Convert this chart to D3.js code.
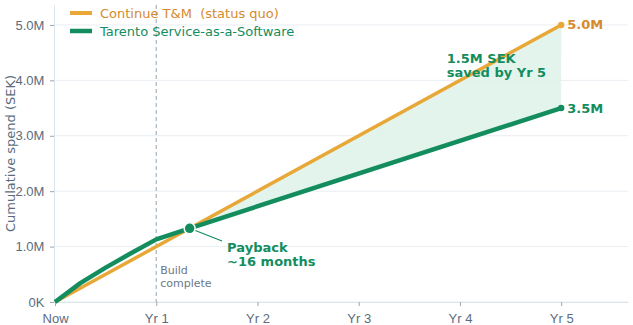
<!DOCTYPE html>
<html lang="en">
<head>
<meta charset="UTF-8" />
<title>Cumulative spend</title>
<script src="https://d3js.org/d3.v7.min.js"></script>
<style>
  body { margin: 0; background: #fff; }
  svg { font-family: "DejaVu Sans", sans-serif; }
  .tick text { fill: #5c6b7c; font-size: 13px; }
</style>
</head>
<body>
<svg id="chart" width="633" height="325"></svg>
<script>
// tick positions and labels
const yearTicks = [0, 1, 2, 3, 4, 5];
const yearLabels = ["Now", "Yr 1", "Yr 2", "Yr 3", "Yr 4", "Yr 5"];
const spendTicks = [0, 1, 2, 3, 4, 5];
const spendLabels = ["0K", "1.0M", "2.0M", "3.0M", "4.0M", "5.0M"];

// series (years, millions SEK)
const tmYears = [0, 5];
const tmSpend = [0, 5.0];
const saasYears = [0, 0.25, 0.5, 0.75, 1, 1.33, 5];
const saasSpend = [0, 0.34, 0.62, 0.88, 1.13, 1.33, 3.5];

const paybackYear = 1.33;
const paybackSpend = 1.33;
const buildYear = 1;

const orange = "#e8a838";
const orangeText = "#d68a2c";
const green = "#138d5e";

const svg = d3.select("#chart");
const margin = { top: 5, right: 5, bottom: 23, left: 54 };
const width = 633 - margin.left - margin.right;
const height = 325 - margin.top - margin.bottom;
const g = svg.append("g").attr("transform", `translate(${margin.left},${margin.top})`);

const x = d3.scaleLinear().domain([-0.01, 5.66]).range([0, width]);
const y = d3.scaleLinear().domain([0, 5.36]).range([height, 0]);

// grid
g.append("g").selectAll("line").data(spendTicks).enter().append("line")
  .attr("x1", 0).attr("x2", width)
  .attr("y1", d => y(d)).attr("y2", d => y(d))
  .attr("stroke", "#e9eef2").attr("stroke-width", 1);

// axes
const xAxis = g.append("g").attr("transform", `translate(0,${height})`)
  .call(d3.axisBottom(x).tickValues(yearTicks).tickFormat((d, i) => yearLabels[i]).tickSize(4).tickSizeOuter(0));
const yAxis = g.append("g")
  .call(d3.axisLeft(y).tickValues(spendTicks).tickFormat((d, i) => spendLabels[i]).tickSize(4).tickSizeOuter(0));
[xAxis, yAxis].forEach(a => {
  a.select(".domain").attr("stroke", "#dde4ea");
  a.selectAll(".tick line").attr("stroke", "#9aa6b2");
});
xAxis.selectAll(".tick text").attr("dy", "1.1em");
yAxis.selectAll(".tick text").attr("dx", "-0.2em");

g.append("text")
  .attr("transform", `translate(${-44},${height / 2}) rotate(-90)`)
  .attr("text-anchor", "middle").attr("dy", "0.35em")
  .attr("fill", "#5c6b7c").attr("font-size", 13)
  .text("Cumulative spend (SEK)");

// build complete marker
g.append("line")
  .attr("x1", x(buildYear)).attr("x2", x(buildYear))
  .attr("y1", 0).attr("y2", height)
  .attr("stroke", "#a8b4bf").attr("stroke-width", 1.2).attr("stroke-dasharray", "4,3");
g.append("text").attr("x", x(buildYear) + 4).attr("y", y(0.5))
  .attr("fill", "#6b7888").attr("font-size", 11)
  .selectAll("tspan").data(["Build", "complete"]).enter().append("tspan")
  .attr("x", x(buildYear) + 4).attr("dy", (d, i) => i ? 13 : 0).text(d => d);

// savings area
const tmAt = t => d3.scaleLinear().domain(tmYears).range(tmSpend)(t);
const areaPts = saasYears.map((t, i) => ({ t, lo: saasSpend[i], hi: tmAt(t) }))
  .filter(d => d.t >= paybackYear);
g.append("path").datum(areaPts)
  .attr("fill", "#dff3ea").attr("opacity", 0.9)
  .attr("d", d3.area().x(d => x(d.t)).y0(d => y(d.lo)).y1(d => y(d.hi)));

// lines
const line = d3.line().x(d => x(d[0])).y(d => y(d[1]));
g.append("path").datum(tmYears.map((t, i) => [t, tmSpend[i]]))
  .attr("fill", "none").attr("stroke", orange).attr("stroke-width", 3.5).attr("d", line);
g.append("path").datum(saasYears.map((t, i) => [t, saasSpend[i]]))
  .attr("fill", "none").attr("stroke", green).attr("stroke-width", 4.5)
  .attr("stroke-linejoin", "round").attr("d", line);

// end points and labels
const ends = [
  { v: tmSpend[1], c: orange, tc: orangeText, label: "5.0M" },
  { v: saasSpend[saasSpend.length - 1], c: green, tc: green, label: "3.5M" }
];
ends.forEach(e => {
  g.append("circle").attr("cx", x(5)).attr("cy", y(e.v)).attr("r", 3.2).attr("fill", e.c);
  g.append("text").attr("x", x(5) + 6).attr("y", y(e.v)).attr("dy", "0.35em")
    .attr("fill", e.tc).attr("font-size", 13).attr("font-weight", "bold").text(e.label);
});

// payback
g.append("line")
  .attr("x1", x(paybackYear) + 5).attr("y1", y(paybackSpend) + 2)
  .attr("x2", x(1.65)).attr("y2", y(1.1))
  .attr("stroke", green).attr("stroke-width", 1.2);
g.append("circle").attr("cx", x(paybackYear)).attr("cy", y(paybackSpend)).attr("r", 5.5)
  .attr("fill", green).attr("stroke", "#fff").attr("stroke-width", 1.5);
g.append("text").attr("fill", green).attr("font-size", 13).attr("font-weight", "bold")
  .selectAll("tspan").data(["Payback", "~16 months"]).enter().append("tspan")
  .attr("x", x(1.7)).attr("y", (d, i) => y(0.91) + i * 14).text(d => d);

g.append("text").attr("fill", green).attr("font-size", 13).attr("font-weight", "bold")
  .selectAll("tspan").data(["1.5M SEK", "saved by Yr 5"]).enter().append("tspan")
  .attr("x", x(3.87)).attr("y", (d, i) => y(4.31) + i * 14).text(d => d);

// legend
const legend = [
  { label: "Continue T&M  (status quo)", c: orange, tc: orangeText, w: 4 },
  { label: "Tarento Service-as-a-Software", c: green, tc: green, w: 4.5 }
];
const lg = svg.append("g").attr("transform", "translate(70,13)");
legend.forEach((d, i) => {
  lg.append("line").attr("x1", 0).attr("x2", 22).attr("y1", i * 18).attr("y2", i * 18)
    .attr("stroke", d.c).attr("stroke-width", d.w);
  lg.append("text").attr("x", 30).attr("y", i * 18).attr("dy", "0.35em")
    .attr("xml:space", "preserve").style("white-space", "pre")
    .attr("fill", d.tc).attr("font-size", 13).text(d.label);
});
</script>
</body>
</html>
